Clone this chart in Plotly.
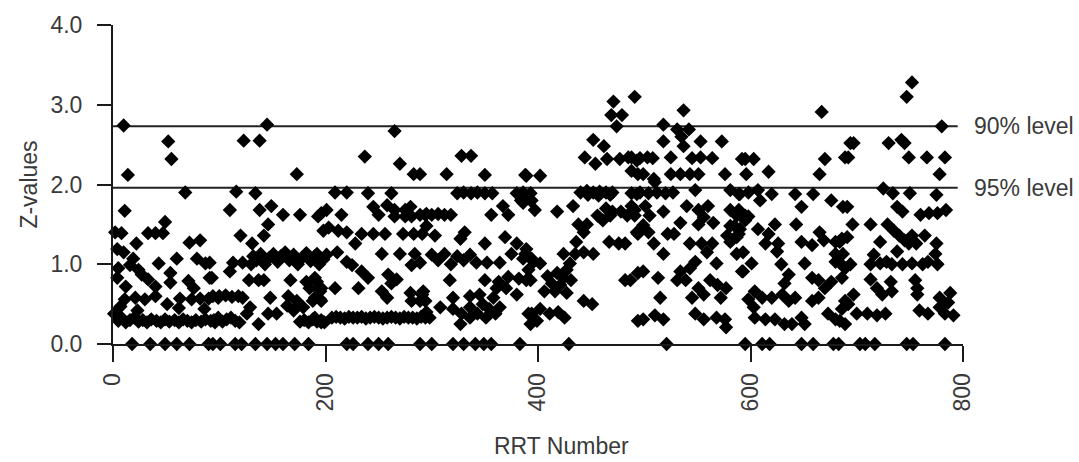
import plotly.graph_objects as go

# Z-values per RRT number, grouped by blocks of RRT numbers (x, z pairs)
block_000 = [
    (10, 2.74), (52, 2.54), (55, 2.32), (14, 2.12), (68, 1.90), (11, 1.67), (49, 1.53),
    (8, 1.39), (33, 1.39), (40, 1.39), (47, 1.39), (22, 1.26), (72, 1.27), (82, 1.30),
    (10, 1.15), (19, 1.07), (43, 1.01), (60, 1.07), (79, 1.07), (87, 1.01), (16, 0.99),
    (24, 0.93), (27, 0.87), (33, 0.81), (40, 0.72), (4, 0.83), (54, 0.89), (54, 0.77),
    (71, 0.79), (76, 0.70), (93, 0.83), (11, 0.56), (21, 0.58), (30, 0.56), (40, 0.60),
    (51, 0.50), (63, 0.57), (74, 0.56), (82, 0.57), (90, 0.57), (99, 0.58), (1, 0.38),
    (5, 0.29), (8, 0.33), (12, 0.27), (16, 0.30), (20, 0.33), (24, 0.28), (28, 0.30),
    (32, 0.27), (36, 0.31), (41, 0.29), (45, 0.27), (49, 0.31), (53, 0.28), (58, 0.30),
    (62, 0.27), (66, 0.31), (70, 0.29), (74, 0.27), (78, 0.30), (83, 0.28), (87, 0.31),
    (92, 0.29), (96, 0.27), (2, 1.40), (4, 1.19), (5, 0.95), (12, 0.72), (7, 0.47),
    (23, 0.42), (62, 0.45), (86, 0.44),
    (18, 0), (35, 0), (49, 0), (60, 0), (72, 0), (90, 0), (94, 0),
]

block_100 = [
    (145, 2.75), (123, 2.55), (138, 2.55), (173, 2.13), (116, 1.91), (134, 1.89),
    (110, 1.68), (138, 1.68), (149, 1.73), (160, 1.62), (176, 1.62), (193, 1.60),
    (146, 1.50), (120, 1.36), (131, 1.26), (142, 1.36), (198, 1.42),
    (132, 1.10), (135, 1.05), (139, 1.13), (143, 1.00), (147, 1.08), (151, 1.13),
    (155, 1.03), (158, 1.10), (162, 1.15), (166, 1.05), (170, 1.12), (174, 1.00),
    (178, 1.08), (182, 1.14), (186, 1.04), (190, 1.10), (194, 1.00), (198, 1.06),
    (113, 1.02), (122, 1.02), (130, 1.00), (91, 1.02), (91, 0.83), (110, 0.91),
    (128, 0.80), (137, 0.80), (142, 0.80), (167, 0.80), (182, 0.78), (192, 0.78),
    (185, 0.70), (195, 0.66), (94, 0.60), (100, 0.60), (106, 0.61), (112, 0.59),
    (118, 0.60), (122, 0.58), (148, 0.58), (165, 0.60), (173, 0.54), (179, 0.46),
    (188, 0.54), (195, 0.56), (164, 0.48), (170, 0.42), (129, 0.46), (126, 0.38),
    (146, 0.38), (154, 0.38), (137, 0.25), (95, 0.30), (99, 0.33), (103, 0.28),
    (107, 0.31), (111, 0.33), (115, 0.29), (119, 0.27), (176, 0.28), (180, 0.30),
    (184, 0.27), (188, 0.31), (192, 0.28), (196, 0.30), (199, 0.27),
    (101, 0), (115, 0), (121, 0), (134, 0), (145, 0), (153, 0), (160, 0), (171, 0), (184, 0),
]

block_200 = [
    (265, 2.67), (237, 2.35), (270, 2.26), (283, 2.13), (209, 1.90), (220, 1.90),
    (240, 1.89), (262, 1.89), (196, 1.64), (201, 1.68), (215, 1.62), (245, 1.72),
    (258, 1.74), (265, 1.68), (275, 1.68), (280, 1.72), (294, 1.62), (250, 1.62),
    (265, 1.60), (275, 1.60), (281, 1.60), (203, 1.46), (212, 1.42), (220, 1.40),
    (234, 1.38), (245, 1.38), (256, 1.38), (273, 1.38), (283, 1.38), (291, 1.38),
    (228, 1.26), (192, 1.13), (201, 1.12), (211, 1.15), (220, 1.03), (253, 1.13),
    (270, 1.13), (284, 1.13), (281, 0.99), (225, 0.99), (234, 0.91), (240, 0.83),
    (259, 0.87), (267, 0.81), (253, 0.66), (258, 0.58), (262, 0.76), (190, 0.83),
    (196, 0.70), (209, 0.70), (190, 0.58), (196, 0.54), (231, 0.70), (280, 0.64),
    (291, 0.62), (281, 0.54), (294, 0.54), (190, 0.33), (196, 0.27),
    (206, 0.33), (210, 0.34), (214, 0.33), (218, 0.32), (222, 0.34), (226, 0.33),
    (230, 0.33), (234, 0.34), (238, 0.32), (242, 0.33), (246, 0.34), (250, 0.33),
    (254, 0.32), (258, 0.33), (262, 0.34), (266, 0.33), (270, 0.32), (274, 0.34),
    (278, 0.33), (282, 0.33), (286, 0.32), (290, 0.34), (294, 0.33), (298, 0.33),
    (220, 0), (226, 0), (240, 0), (250, 0), (259, 0), (289, 0), (300, 0),
]

block_300 = [
    (289, 2.13), (314, 2.13), (328, 2.36), (337, 2.36), (350, 2.12), (388, 2.12),
    (324, 1.89), (330, 1.90), (337, 1.89), (343, 1.90), (350, 1.89), (357, 1.89),
    (380, 1.89), (386, 1.90), (393, 1.89), (384, 1.80), (289, 1.62), (295, 1.63),
    (300, 1.62), (306, 1.63), (312, 1.62), (318, 1.62), (356, 1.62), (367, 1.73),
    (372, 1.62), (386, 1.77), (393, 1.80), (295, 1.48), (303, 1.36), (331, 1.40),
    (327, 1.32), (350, 1.26), (369, 1.34), (380, 1.26), (389, 1.19), (300, 1.12),
    (306, 1.05), (312, 1.13), (318, 1.00), (324, 1.10), (330, 1.05), (336, 1.12),
    (342, 1.02), (352, 1.02), (364, 1.02), (375, 1.13), (386, 1.07), (396, 1.03),
    (289, 1.02), (317, 0.80), (350, 0.80), (363, 0.78), (372, 0.84), (382, 0.82),
    (389, 0.80), (361, 0.70), (370, 0.70), (380, 0.62), (292, 0.66), (320, 0.58),
    (336, 0.60), (345, 0.62), (358, 0.58), (289, 0.54), (295, 0.40), (308, 0.46),
    (320, 0.44), (336, 0.46), (348, 0.50), (354, 0.44), (364, 0.46), (328, 0.38),
    (336, 0.33), (343, 0.38), (351, 0.33), (360, 0.38), (327, 0.25), (391, 0.38),
    (393, 0.25),
    (320, 0), (330, 0), (341, 0), (349, 0), (356, 0), (383, 0),
]

block_400 = [
    (471, 3.04), (469, 2.87), (479, 2.87), (474, 2.73), (491, 3.10), (452, 2.56),
    (462, 2.48), (444, 2.34), (454, 2.26), (465, 2.32), (477, 2.32), (485, 2.34),
    (493, 2.30), (488, 2.17), (494, 2.13), (389, 2.11), (402, 2.11), (440, 1.90),
    (446, 1.92), (452, 1.90), (458, 1.91), (464, 1.90), (470, 1.90), (447, 1.87),
    (457, 1.86), (468, 1.87), (493, 1.88), (388, 1.87), (394, 1.80), (397, 1.68),
    (418, 1.66), (433, 1.73), (456, 1.61), (464, 1.70), (470, 1.66), (478, 1.66),
    (484, 1.61), (491, 1.68), (461, 1.55), (468, 1.61), (438, 1.50), (446, 1.50),
    (443, 1.40), (436, 1.28), (467, 1.28), (476, 1.26), (482, 1.26), (494, 1.38),
    (424, 1.13), (435, 1.13), (443, 1.15), (452, 1.13), (388, 1.13), (394, 1.07),
    (402, 1.01), (391, 0.93), (393, 0.80), (430, 1.01), (427, 0.93), (409, 0.85),
    (418, 0.89), (424, 0.83), (413, 0.76), (421, 0.74), (431, 0.80), (406, 0.66),
    (416, 0.66), (427, 0.64), (482, 0.80), (494, 0.89), (443, 0.54), (451, 0.50),
    (394, 0.38), (402, 0.44), (411, 0.38), (419, 0.40), (425, 0.33), (399, 0.29),
    (494, 0.29),
    (429, 0),
]

block_500 = [
    (537, 2.93), (518, 2.75), (531, 2.69), (542, 2.69), (518, 2.54), (537, 2.48),
    (553, 2.54), (573, 2.54), (535, 2.60), (488, 2.34), (496, 2.33), (503, 2.34),
    (508, 2.33), (525, 2.34), (545, 2.33), (553, 2.34), (564, 2.33), (592, 2.32),
    (499, 2.13), (509, 2.07), (510, 2.03), (525, 2.13), (534, 2.13), (543, 2.13),
    (551, 2.13), (576, 2.13), (488, 1.89), (496, 1.90), (504, 1.89), (512, 1.90),
    (520, 1.89), (527, 1.90), (548, 1.93), (581, 1.93), (590, 1.88), (488, 1.73),
    (501, 1.73), (491, 1.61), (499, 1.49), (493, 1.40), (504, 1.40), (505, 1.61),
    (518, 1.66), (540, 1.73), (551, 1.68), (560, 1.73), (556, 1.59), (565, 1.52),
    (551, 1.50), (534, 1.52), (528, 1.38), (522, 1.38), (581, 1.68), (587, 1.61),
    (581, 1.48), (590, 1.44), (578, 1.36), (587, 1.34), (595, 1.55), (509, 1.26),
    (518, 1.13), (543, 1.26), (554, 1.26), (564, 1.26), (559, 1.15), (568, 1.01),
    (581, 1.28), (587, 1.13), (548, 1.03), (543, 0.95), (534, 0.91), (539, 0.80),
    (531, 0.80), (487, 0.80), (499, 0.91), (513, 0.83), (562, 0.80), (569, 0.74),
    (577, 0.70), (551, 0.70), (556, 0.62), (593, 0.91), (515, 0.58), (545, 0.58),
    (572, 0.58), (499, 0.31), (510, 0.36), (518, 0.31), (548, 0.38), (556, 0.31),
    (568, 0.33), (576, 0.31), (577, 0.21),
    (521, 0), (595, 0),
]

block_600 = [
    (667, 2.91), (694, 2.52), (595, 2.32), (603, 2.32), (670, 2.32), (689, 2.34),
    (596, 2.13), (617, 2.16), (665, 2.13), (589, 1.88), (598, 1.90), (607, 1.93),
    (609, 1.80), (620, 1.88), (642, 1.88), (659, 1.88), (648, 1.72), (676, 1.80),
    (687, 1.72), (589, 1.68), (595, 1.61), (585, 1.48), (589, 1.38), (598, 1.60),
    (643, 1.50), (607, 1.44), (617, 1.38), (623, 1.50), (614, 1.26), (626, 1.26),
    (625, 1.16), (648, 1.28), (658, 1.24), (665, 1.40), (669, 1.30), (680, 1.28),
    (686, 1.32), (680, 1.13), (683, 1.03), (689, 0.95), (593, 1.15), (601, 1.01),
    (592, 0.91), (629, 1.00), (636, 0.87), (651, 1.01), (658, 0.83), (632, 0.76),
    (664, 0.80), (670, 0.70), (676, 0.78), (680, 1.03), (686, 0.83), (604, 0.66),
    (611, 0.58), (620, 0.58), (630, 0.62), (642, 0.58), (636, 0.54), (658, 0.54),
    (664, 0.58), (598, 0.56), (603, 0.46), (604, 0.33), (614, 0.31), (623, 0.31),
    (632, 0.25), (639, 0.25), (648, 0.33), (651, 0.25), (673, 0.38), (680, 0.31),
    (686, 0.44), (692, 0.50),
    (611, 0), (618, 0), (648, 0), (659, 0), (678, 0), (683, 0),
]

block_700 = [
    (752, 3.28), (747, 3.10), (780, 2.73), (697, 2.52), (692, 2.34), (730, 2.52),
    (742, 2.56), (745, 2.52), (749, 2.34), (766, 2.34), (783, 2.34), (778, 2.13),
    (725, 1.95), (734, 1.89), (750, 1.89), (775, 1.87), (691, 1.72), (738, 1.72),
    (743, 1.66), (760, 1.62), (768, 1.64), (776, 1.64), (784, 1.68), (696, 1.50),
    (713, 1.50), (729, 1.50), (735, 1.42), (740, 1.36), (745, 1.30), (752, 1.36),
    (764, 1.36), (749, 1.26), (756, 1.26), (775, 1.26), (691, 1.34), (684, 1.28),
    (687, 1.13), (722, 1.28), (716, 1.12), (738, 1.16), (728, 1.03), (774, 1.13),
    (767, 1.03), (694, 1.00), (713, 1.00), (722, 1.01), (733, 1.00), (743, 1.00),
    (752, 1.01), (762, 1.00), (776, 1.00), (713, 0.81), (719, 0.70), (724, 0.62),
    (732, 0.78), (733, 0.66), (755, 0.80), (757, 0.70), (757, 0.62), (697, 0.62),
    (689, 0.54), (778, 0.58), (788, 0.64), (700, 0.38), (710, 0.38), (719, 0.36),
    (727, 0.38), (759, 0.42), (767, 0.38), (778, 0.46), (783, 0.38), (791, 0.36),
    (786, 0.52), (684, 0.29), (689, 0.25),
    (703, 0), (708, 0), (717, 0), (747, 0), (753, 0), (783, 0),
]

# Significance thresholds drawn as reference lines
level_90 = 2.73
level_95 = 1.96

x_ticks = [0, 200, 400, 600, 800]
y_ticks = [0, 1, 2, 3, 4]
y_tick_text = ["0.0", "1.0", "2.0", "3.0", "4.0"]

points = (block_000 + block_100 + block_200 + block_300
          + block_400 + block_500 + block_600 + block_700)
rrt = [p[0] for p in points]
z = [p[1] for p in points]

FONT = "Liberation Sans, Arial, Helvetica, sans-serif"
TEXT = "#3a3a3a"
AXIS = "#1a1a1a"
FS = 23

fig = go.Figure()
fig.add_trace(go.Scatter(
    x=rrt, y=z, mode="markers",
    marker=dict(symbol="diamond", size=11, color="#000000", line=dict(width=0)),
    cliponaxis=False, hoverinfo="x+y",
))

for lvl in (level_90, level_95):
    fig.add_shape(type="line", xref="x", yref="y", x0=0, x1=795, y0=lvl, y1=lvl,
                  line=dict(color="#222222", width=2), layer="below")

# Threshold labels sit just outside the right edge of the plot area
for lvl, label in ((level_90, "90% level"), (level_95, "95% level")):
    fig.add_annotation(x=1.01, y=lvl, xref="paper", yref="y", text=label,
                       showarrow=False, xanchor="left", yanchor="middle",
                       font=dict(family=FONT, size=FS, color=TEXT))

fig.add_annotation(x=0.528, y=-0.319, xref="paper", yref="paper", text="RRT Number",
                   showarrow=False, xanchor="center", yanchor="middle",
                   font=dict(family=FONT, size=FS, color=TEXT))

fig.update_layout(
    width=1079, height=462,
    margin=dict(l=113, r=116, t=18, b=118),
    paper_bgcolor="white", plot_bgcolor="white",
    showlegend=False,
    font=dict(family=FONT, size=FS, color=TEXT),
    xaxis=dict(
        range=[0, 800], tickmode="array", tickvals=x_ticks,
        ticktext=[str(v) for v in x_ticks], tickangle=-90,
        showline=True, linecolor=AXIS, linewidth=2,
        ticks="outside", ticklen=16, tickwidth=2, tickcolor=AXIS,
        showgrid=False, zeroline=False, ticklabelstandoff=2,
    ),
    yaxis=dict(
        range=[0, 4], tickmode="array", tickvals=y_ticks, ticktext=y_tick_text,
        showline=True, linecolor=AXIS, linewidth=2,
        ticks="outside", ticklen=14, tickwidth=2, tickcolor=AXIS,
        showgrid=False, zeroline=False, ticklabelstandoff=10,
        title=dict(text="Z-values", standoff=6,
                   font=dict(family=FONT, size=FS, color=TEXT)),
    ),
)

fig.write_html("out.html")
